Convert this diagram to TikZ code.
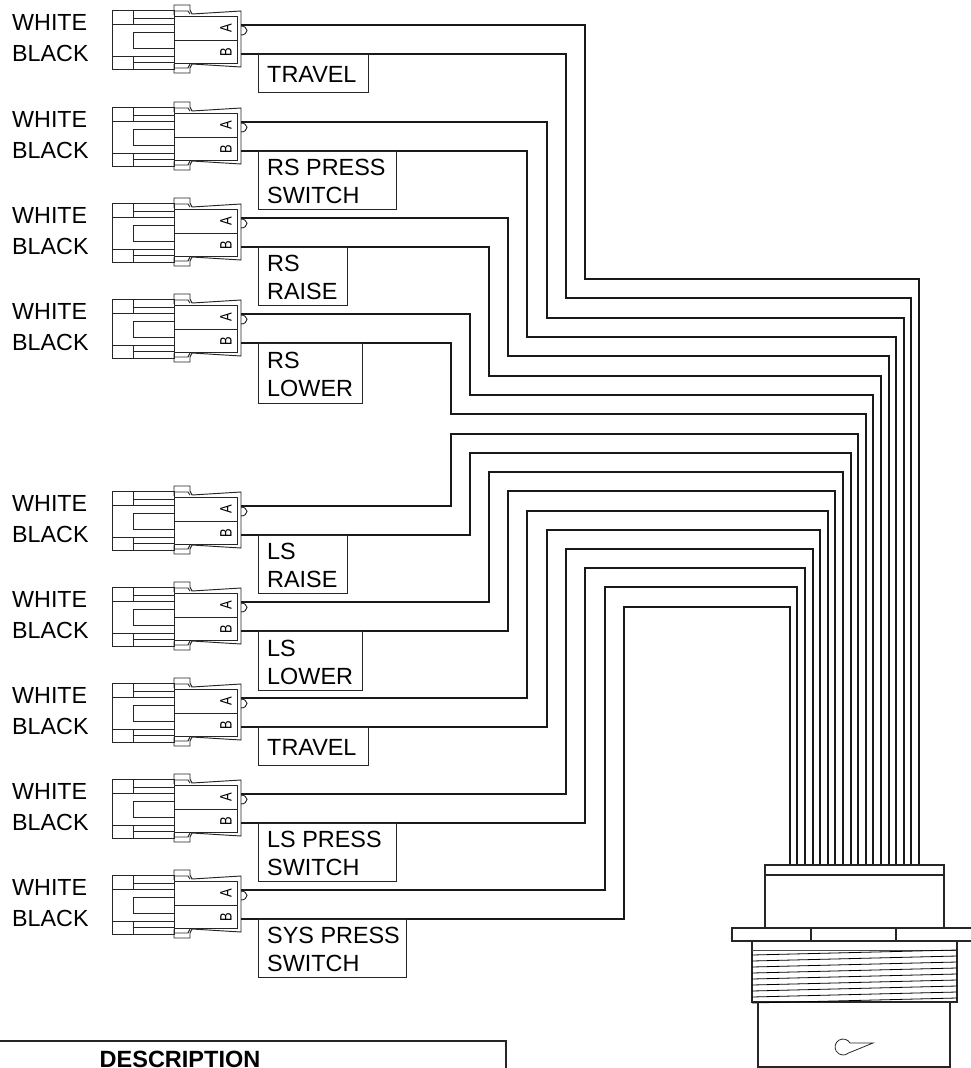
\documentclass[tikz,border=0pt]{standalone}
\usepackage{fontspec}
\setmainfont{Liberation Sans}
\tikzset{
  wire/.style={line width=2pt,black!90,line join=miter},
  thin line/.style={line width=.95pt,black!85},
  boxline/.style={line width=1.1pt,black!85},
  side/.style={font=\fontsize{23.3}{28}\selectfont,anchor=west,inner sep=0pt,align=left},
  tagbox/.style={draw=black!85,line width=1pt,anchor=north west,inner sep=0pt},
  tagtext/.style={font=\fontsize{23.4}{28}\selectfont,anchor=west,inner sep=0pt,align=left},
  pinletter/.style={font=\fontsize{16.5}{16.5}\selectfont,rotate=90,inner sep=0pt},
  connector/.pic={
    % y origin = pin A wire
    \draw[thin line] (112,-15) rectangle (174,44);
    \draw[thin line] (133,-15) -- (133,-1) -- (112,-1);
    \draw[thin line] (133,-7) -- (174,-7) (133,-1) -- (174,-1);
    \draw[thin line] (174,7) -- (133,7) -- (133,23) -- (174,23);
    \draw[thin line] (112,31) -- (133,31) -- (133,44);
    \draw[thin line] (133,31) -- (174,31) (133,37) -- (174,37);
    \draw[thin line] (174,-9) rectangle (237,38);
    \draw[thin line] (174,15) -- (237,15);
    \draw[thin line] (174,-10) -- (174,-20) -- (190,-20) -- (190,-15) -- (192,-11) -- (241,-14) -- (241,42) -- (192,39) -- (190,43) -- (190,48) -- (174,48) -- (174,39);
    \draw[thin line] (174,-14) -- (188,-14) -- (190,-11) (174,43) -- (188,43) -- (190,39);
    \draw[thin line] (241,10) arc[start angle=90,end angle=-90,x radius=6,y radius=4.5];
    \coordinate (-A) at (241,0);
    \coordinate (-B) at (241,29);
    \node[pinletter] (-a) at (226,3) {\scalebox{.78}[1]{A}};
    \node[pinletter] (-b) at (226,27) {\scalebox{.78}[1]{B}};
    \node[side] (-w) at (12,-3) {WHITE};
    \node[side] (-k) at (12,28) {BLACK};
  }
}
\begin{document}
\begin{tikzpicture}[x=1pt,y=-1pt]
\useasboundingbox (0,0) rectangle (971,1068);
% connectors
\foreach \n/\yy in {1/25,2/122,3/218,4/314,5/506,6/602,7/698,8/794,9/890}{
  \pic (c\n) at (0,\yy) {connector};
}
% plug wire entries
\foreach \k in {1,...,18}{
  \coordinate (p\k) at ({round(919-(\k-1)*7.6)},866);
}
% wires
\foreach \pin/\bx/\hy/\k in {
  c1-A/585/279/1, c1-B/566/298/2,
  c2-A/547/318/3, c2-B/527/337/4,
  c3-A/508/356/5, c3-B/489/376/6,
  c4-A/470/395/7, c4-B/451/414/8,
  c5-A/451/434/9, c5-B/470/453/10,
  c6-A/489/472/11, c6-B/508/491/12,
  c7-A/527/511/13, c7-B/547/530/14,
  c8-A/566/549/15, c8-B/585/568/16,
  c9-A/605/587/17, c9-B/624/607/18}{
  \draw[wire] (\pin) -| (\bx,\hy) -| (p\k);
}
% tag boxes
\foreach \n/\top/\w/\h/\txt in {
  1/54/110/38/TRAVEL,
  2/151/138/58/{RS PRESS\\SWITCH},
  3/247/89/58/{RS\\RAISE},
  4/343/104/60/{RS\\LOWER},
  5/535/89/58/{LS\\RAISE},
  6/631/104/59/{LS\\LOWER},
  7/727/110/38/TRAVEL,
  8/823/138/58/{LS PRESS\\SWITCH},
  9/919/148/58/{SYS PRESS\\SWITCH}}{
  \node[tagbox,minimum width=\w pt,minimum height=\h pt] (b\n) at (258,\top) {};
  \node[tagtext] (t\n) at ([xshift=9pt,yshift=-1pt]b\n.west) {\txt};
}
% plug
\draw[boxline] (765,865) rectangle (944,928);
\draw[boxline] (765,875) -- (944,875);
\draw[boxline] (971.5,928) -- (732,928) -- (732,941) -- (971.5,941);
\draw[boxline] (811,928) -- (811,941) (896,928) -- (896,941);
\draw[boxline] (752,941) rectangle (957,1002);
\draw[line width=.8pt,black!70] (752,950.5) -- (957,950.5);
\foreach \i in {0,...,8}{
  \draw[line width=.8pt,black] (752,{955+6*\i}) -- (957,{950+6*\i});
}
\draw[boxline] (758,1002) -- (758,1067) -- (950,1067) -- (950,1002);
\draw[line width=.8pt,black!85] (873,1043) -- (850,1043) arc[start angle=-30,end angle=-310,radius=8] -- cycle;
% description table
\draw[boxline] (0,1041) -- (506,1041) -- (506,1068);
\node[font=\bfseries\fontsize{23.5}{28}\selectfont,anchor=base,inner sep=0pt] (desc) at (180,1067) {DESCRIPTION};
\end{tikzpicture}
\end{document}
